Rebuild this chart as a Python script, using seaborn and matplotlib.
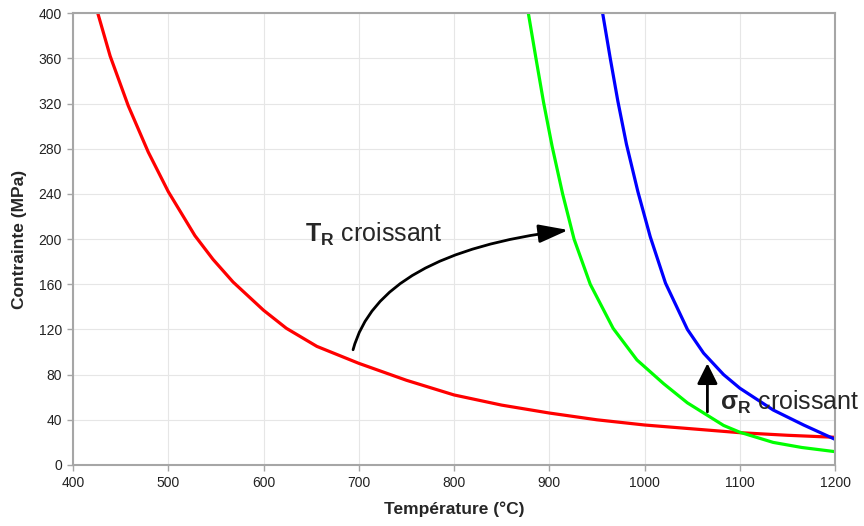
import matplotlib
matplotlib.use("Agg")
import matplotlib.pyplot as plt
import seaborn as sns

# temperature (°C) / stress (MPa)
t_red = [426, 439, 458, 479, 500, 528, 547, 568, 600, 624, 656, 700, 750, 800, 850, 900,
         950, 1000, 1050, 1100, 1150, 1200]
s_red = [400, 362, 318, 277, 242, 203, 182, 162, 137, 121, 105, 90, 75, 62, 53, 46,
         40, 35.4, 32, 28.6, 26.3, 24.5]

t_green = [878, 886, 894, 903, 914, 926, 943, 967, 992, 1020, 1045, 1083, 1100, 1135, 1165, 1200]
s_green = [400, 360, 321, 282, 240, 200, 160, 121, 93, 72, 55, 35, 29, 20, 15.5, 11.8]

t_blue = [956, 964, 972, 981, 993, 1006, 1022, 1045, 1062, 1083, 1100, 1135, 1167, 1200]
s_blue = [400, 360, 322, 284, 242, 202, 161, 120, 99, 80, 68, 48.7, 35.4, 22.7]

x_ticks = [400, 500, 600, 700, 800, 900, 1000, 1100, 1200]
y_ticks = [0, 40, 80, 120, 160, 200, 240, 280, 320, 360, 400]

sns.set_style("whitegrid", {"grid.color": "#e6e6e6", "axes.edgecolor": "#a6a6a6",
                            "xtick.bottom": True, "ytick.left": True})
plt.rcParams["font.family"] = ["Liberation Sans", "DejaVu Sans"]
plt.rcParams["mathtext.fontset"] = "custom"
plt.rcParams["mathtext.bf"] = "Liberation Sans:bold"
plt.rcParams["mathtext.rm"] = "Liberation Sans"

fig = plt.figure(figsize=(8.64, 5.26), dpi=100)
ax = fig.add_axes([0.0845, 0.116, 0.882, 0.859])

lw = 2.3
sns.lineplot(x=t_red, y=s_red, color="#ff0000", linewidth=lw, ax=ax)
sns.lineplot(x=t_green, y=s_green, color="#00ff00", linewidth=lw, ax=ax)
sns.lineplot(x=t_blue, y=s_blue, color="#0000ff", linewidth=lw, ax=ax)

ax.set_xlim(400, 1200)
ax.set_ylim(0, 400)
ax.set_xticks(x_ticks)
ax.set_yticks(y_ticks)
ax.grid(True, linewidth=0.8)
for sp in ax.spines.values():
    sp.set_linewidth(1.5)
    sp.set_color("#a6a6a6")
ax.tick_params(axis="both", length=4, width=1, color="#a6a6a6", labelsize=10,
               labelcolor="#222222", pad=4)

ax.set_xlabel("Température (°C)", fontsize=12.5, fontweight="bold", labelpad=8)
ax.set_ylabel("Contrainte (MPa)", fontsize=12.5, fontweight="bold", labelpad=8)

# annotations
ax.text(644, 204, r"$\mathbf{T_R}$ croissant", fontsize=18, va="center", ha="left")
ax.annotate("", xy=(920, 208), xytext=(694, 102),
            arrowprops=dict(arrowstyle="-|>,head_length=0.9,head_width=0.28",
                            connectionstyle="angle3,angleA=75,angleB=7",
                            color="black", lw=2, mutation_scale=20,
                            shrinkA=0, shrinkB=0))

ax.annotate("", xy=(1066, 90), xytext=(1066, 47),
            arrowprops=dict(arrowstyle="-|>,head_length=0.62,head_width=0.31",
                            color="black", lw=2, mutation_scale=20,
                            shrinkA=0, shrinkB=0))
ax.text(1079, 55, r"$\mathbf{σ_R}$ croissant", fontsize=18, va="center", ha="left",
        clip_on=False)

fig.savefig("out.png", dpi=100)
